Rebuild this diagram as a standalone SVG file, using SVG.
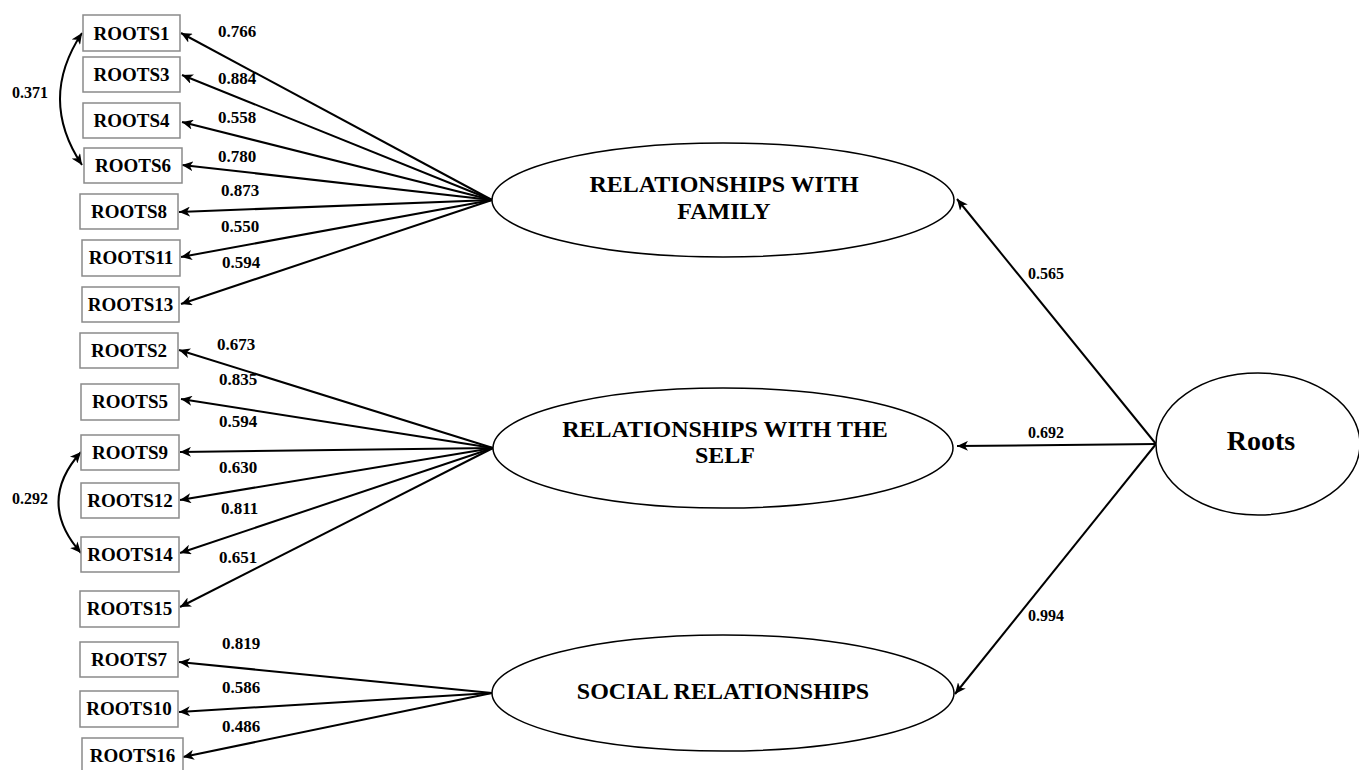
<svg xmlns="http://www.w3.org/2000/svg" width="1359" height="770" viewBox="0 0 1359 770">
<style>
.box{fill:#fff;stroke:#8a8a8a;stroke-width:1.5}
.ell{fill:#fff;stroke:#000;stroke-width:1.5}
.bt{font-family:"Liberation Serif",serif;font-weight:bold;font-size:19px;fill:#000;text-anchor:middle}
.et{font-family:"Liberation Serif",serif;font-weight:bold;font-size:24px;fill:#000;text-anchor:middle}
.rt{font-family:"Liberation Serif",serif;font-weight:bold;font-size:28px;fill:#000;text-anchor:middle}
.lb{font-family:"Liberation Serif",serif;font-weight:bold;font-size:17px;fill:#000}
.lc{font-family:"Liberation Serif",serif;font-weight:bold;font-size:16px;fill:#000}
.ln{fill:none;stroke:#000;stroke-width:2;marker-end:url(#ah)}
.cv{fill:none;stroke:#000;stroke-width:2;marker-start:url(#ahs);marker-end:url(#ah)}
</style>
<defs>
<marker id="ah" markerUnits="userSpaceOnUse" markerWidth="12" markerHeight="10" refX="11" refY="5" orient="auto"><path d="M0,0 L11,5 L0,10 L3,5 z" fill="#000"/></marker>
<marker id="ahs" markerUnits="userSpaceOnUse" markerWidth="12" markerHeight="10" refX="0" refY="5" orient="auto"><path d="M11,0 L0,5 L11,10 L8,5 z" fill="#000"/></marker>
</defs>
<rect width="1359" height="770" fill="#fff"/>
<g id="connectors">
<line class="ln" x1="492" y1="200" x2="181" y2="33"/>
<line class="ln" x1="492" y1="200" x2="182" y2="75"/>
<line class="ln" x1="492" y1="200" x2="182" y2="122"/>
<line class="ln" x1="492" y1="200" x2="182" y2="165"/>
<line class="ln" x1="492" y1="200" x2="179" y2="212"/>
<line class="ln" x1="492" y1="200" x2="181" y2="257"/>
<line class="ln" x1="492" y1="200" x2="181" y2="304"/>
<line class="ln" x1="493" y1="448" x2="179" y2="350"/>
<line class="ln" x1="493" y1="448" x2="181" y2="399"/>
<line class="ln" x1="493" y1="448" x2="180" y2="452"/>
<line class="ln" x1="493" y1="448" x2="180" y2="500"/>
<line class="ln" x1="493" y1="448" x2="180" y2="553"/>
<line class="ln" x1="493" y1="448" x2="180" y2="607"/>
<line class="ln" x1="492" y1="693" x2="179" y2="662"/>
<line class="ln" x1="492" y1="693" x2="179" y2="712"/>
<line class="ln" x1="492" y1="693" x2="183" y2="757"/>
<line class="ln" x1="1156" y1="444" x2="957" y2="199"/>
<line class="ln" x1="1156" y1="444" x2="957" y2="446"/>
<line class="ln" x1="1156" y1="444" x2="955" y2="694"/>
<path class="cv" d="M82,33 Q38,99 82,165"/>
<path class="cv" d="M81,452 Q36,502 81,553"/>
</g>
<g id="labels">
<text class="lb" x="218" y="37">0.766</text>
<text class="lb" x="218" y="84">0.884</text>
<text class="lb" x="218" y="123">0.558</text>
<text class="lb" x="218" y="162">0.780</text>
<text class="lb" x="221" y="196">0.873</text>
<text class="lb" x="221" y="232">0.550</text>
<text class="lb" x="222" y="268">0.594</text>
<text class="lb" x="217" y="350">0.673</text>
<text class="lb" x="219" y="385">0.835</text>
<text class="lb" x="219" y="427">0.594</text>
<text class="lb" x="219" y="473">0.630</text>
<text class="lb" x="221" y="514">0.811</text>
<text class="lb" x="219" y="563">0.651</text>
<text class="lb" x="222" y="649">0.819</text>
<text class="lb" x="222" y="693">0.586</text>
<text class="lb" x="222" y="732">0.486</text>
<text class="lc" x="12" y="98">0.371</text>
<text class="lc" x="12" y="504">0.292</text>
<text class="lc" x="1028" y="279">0.565</text>
<text class="lc" x="1028" y="438">0.692</text>
<text class="lc" x="1028" y="621">0.994</text>
</g>
<g id="ROOTS1"><rect class="box" x="83" y="15" width="97" height="36"/><text class="bt" x="131.5" y="40">ROOTS1</text></g>
<g id="ROOTS3"><rect class="box" x="83" y="57" width="97" height="35"/><text class="bt" x="131.5" y="81">ROOTS3</text></g>
<g id="ROOTS4"><rect class="box" x="83" y="103" width="97" height="35"/><text class="bt" x="131.5" y="127">ROOTS4</text></g>
<g id="ROOTS6"><rect class="box" x="84" y="148" width="98" height="35"/><text class="bt" x="133" y="172">ROOTS6</text></g>
<g id="ROOTS8"><rect class="box" x="80" y="194" width="98" height="35"/><text class="bt" x="129" y="218">ROOTS8</text></g>
<g id="ROOTS11"><rect class="box" x="82" y="240" width="98" height="36"/><text class="bt" x="131" y="264">ROOTS11</text></g>
<g id="ROOTS13"><rect class="box" x="82" y="287" width="97" height="35"/><text class="bt" x="130.5" y="311">ROOTS13</text></g>
<g id="ROOTS2"><rect class="box" x="80" y="333" width="98" height="35"/><text class="bt" x="129" y="357">ROOTS2</text></g>
<g id="ROOTS5"><rect class="box" x="81" y="384" width="98" height="36"/><text class="bt" x="130" y="408">ROOTS5</text></g>
<g id="ROOTS9"><rect class="box" x="81" y="435" width="98" height="35"/><text class="bt" x="130" y="459">ROOTS9</text></g>
<g id="ROOTS12"><rect class="box" x="81" y="483" width="98" height="35"/><text class="bt" x="130" y="507">ROOTS12</text></g>
<g id="ROOTS14"><rect class="box" x="81" y="537" width="98" height="35"/><text class="bt" x="130" y="561">ROOTS14</text></g>
<g id="ROOTS15"><rect class="box" x="80" y="591" width="99" height="36"/><text class="bt" x="129.5" y="615">ROOTS15</text></g>
<g id="ROOTS7"><rect class="box" x="80" y="642" width="98" height="35"/><text class="bt" x="129" y="666">ROOTS7</text></g>
<g id="ROOTS10"><rect class="box" x="80" y="691" width="98" height="36"/><text class="bt" x="129" y="715">ROOTS10</text></g>
<g id="ROOTS16"><rect class="box" x="82" y="738" width="101" height="34"/><text class="bt" x="132.5" y="762">ROOTS16</text></g>
<g id="RWF"><ellipse class="ell" cx="723" cy="200" rx="231" ry="57"/><text class="et" x="724" y="192">RELATIONSHIPS WITH</text><text class="et" x="724" y="219">FAMILY</text></g>
<g id="RWS"><ellipse class="ell" cx="723" cy="448" rx="230" ry="60"/><text class="et" x="725" y="437">RELATIONSHIPS WITH THE</text><text class="et" x="725" y="463">SELF</text></g>
<g id="SOCIAL"><ellipse class="ell" cx="723" cy="693" rx="231" ry="58"/><text class="et" x="723" y="699">SOCIAL RELATIONSHIPS</text></g>
<g id="ROOTS"><ellipse class="ell" cx="1258" cy="444" rx="102" ry="71"/><text class="rt" x="1261" y="450">Roots</text></g>
</svg>
